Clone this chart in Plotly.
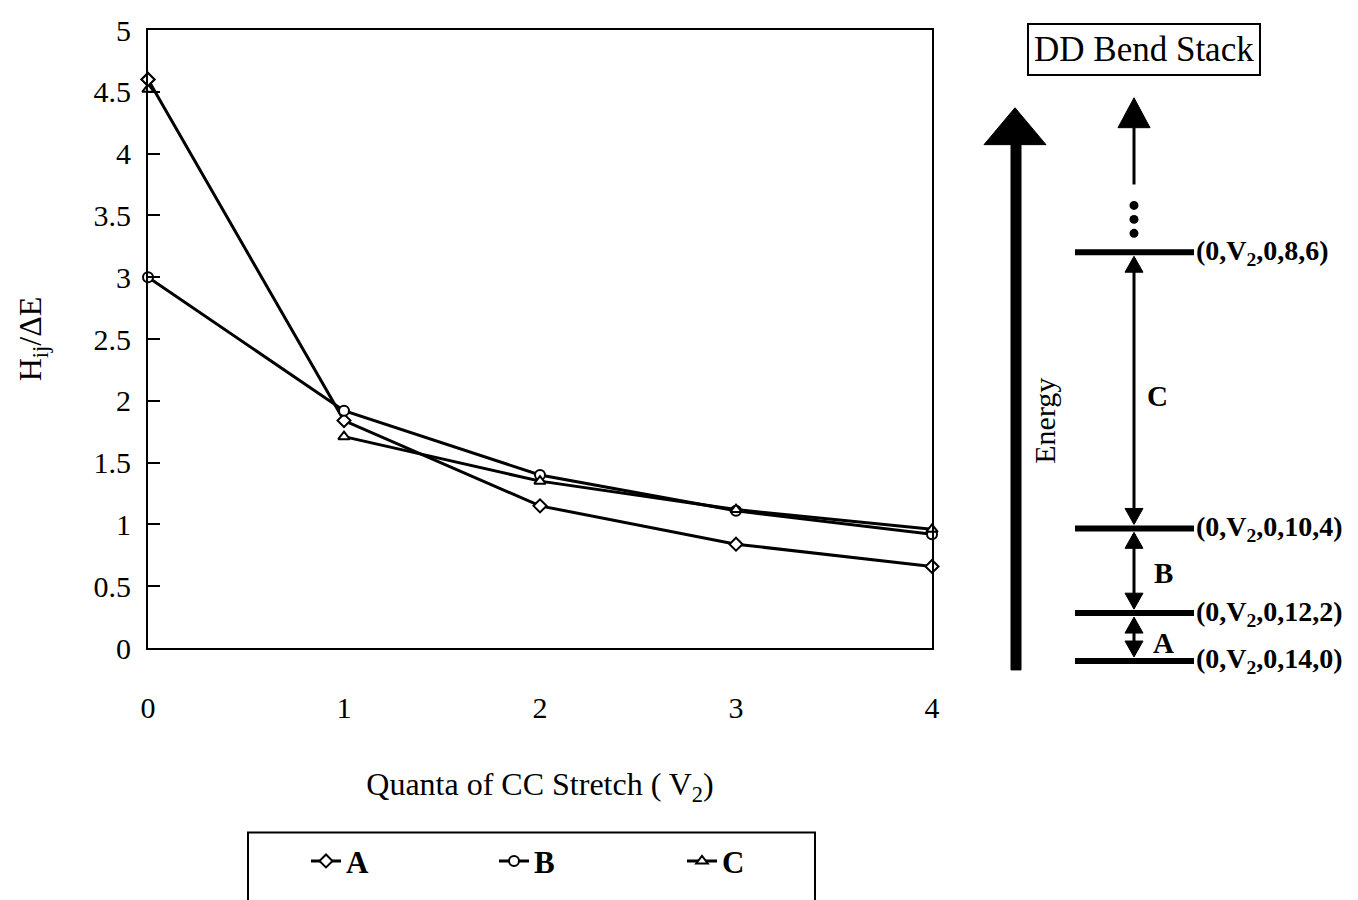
import plotly.graph_objects as go

# Quanta of CC stretch and coupling ratios for each bend-stack pair
quanta = [0, 1, 2, 3, 4]
series_a = [4.60, 1.84, 1.15, 0.84, 0.66]
series_b = [3.00, 1.92, 1.40, 1.11, 0.92]
series_c = [4.52, 1.71, 1.35, 1.12, 0.96]
y_ticks = [0, 0.5, 1, 1.5, 2, 2.5, 3, 3.5, 4, 4.5, 5]
y_tick_text = ["0", "0.5", "1", "1.5", "2", "2.5", "3", "3.5", "4", "4.5", "5"]

# Energy levels of the DD bend stack (label, vertical pixel position)
levels = [("(0,V<sub>2</sub>,0,8,6)", 253),
          ("(0,V<sub>2</sub>,0,10,4)", 530),
          ("(0,V<sub>2</sub>,0,12,2)", 615),
          ("(0,V<sub>2</sub>,0,14,0)", 663)]

SERIF = "Liberation Serif"
W, H = 1358, 900
L, R, T, B = 148, 932, 30, 650


def px(x):
    return (x - L) / (R - L)


def py(y):
    return (B - y) / (B - T)


fig = go.Figure()

marker_line = dict(color="black", width=2)
fig.add_trace(go.Scatter(x=quanta, y=series_a, name="A", mode="lines+markers",
                         line=dict(color="black", width=3),
                         marker=dict(symbol="diamond", size=10, color="white", line=marker_line),
                         cliponaxis=False))
fig.add_trace(go.Scatter(x=quanta, y=series_b, name="B", mode="lines+markers",
                         line=dict(color="black", width=3),
                         marker=dict(symbol="circle", size=10, color="white", line=marker_line),
                         cliponaxis=False))
# C is joined from v2 = 1 onward; the v2 = 0 point is shown as a marker only
fig.add_trace(go.Scatter(x=quanta[1:], y=series_c[1:], name="C", mode="lines+markers",
                         line=dict(color="black", width=3),
                         marker=dict(symbol="triangle-up", size=10, color="white", line=marker_line),
                         cliponaxis=False))
fig.add_trace(go.Scatter(x=quanta[:1], y=series_c[:1], mode="markers", showlegend=False,
                         marker=dict(symbol="triangle-up", size=10, color="white", line=marker_line),
                         cliponaxis=False))
# redraw A on top so its start marker sits above C's
fig.add_trace(go.Scatter(x=quanta[:1], y=series_a[:1], mode="markers", showlegend=False,
                         marker=dict(symbol="diamond", size=10, color="white", line=marker_line),
                         cliponaxis=False))

shapes = []
annotations = []


def label(x, y, text, size, bold=False, angle=0, xanchor="center", **kw):
    font = dict(family=SERIF, size=size, color="black")
    if bold:
        font["weight"] = "bold"
    annotations.append(dict(x=px(x), y=py(y), xref="paper", yref="paper", text=text,
                            textangle=angle, showarrow=False, xanchor=xanchor,
                            yanchor="middle", font=font, **kw))


# Legend frame
shapes.append(dict(type="rect", xref="paper", yref="paper",
                   x0=px(248), x1=px(815), y0=py(835), y1=py(915),
                   line=dict(color="black", width=2), fillcolor="rgba(0,0,0,0)"))

# Big energy arrow
sl, sr, bot, hb, tip_y = 1011, 1021, 672, 145, 108
hl, hr, tx = 984, 1046, 1015
path = (f"M {px(sl)},{py(bot)} L {px(sl)},{py(hb)} L {px(hl)},{py(hb)} "
        f"L {px(tx)},{py(tip_y)} L {px(hr)},{py(hb)} L {px(sr)},{py(hb)} "
        f"L {px(sr)},{py(bot)} Z")
shapes.append(dict(type="path", xref="paper", yref="paper", path=path,
                   fillcolor="black", line=dict(color="black", width=1)))
label(1045, 422, "Energy", 30, angle=-90)

# Stack of levels
cx = 1134


def tri(x, y_tip, y_base, half):
    return dict(type="path", xref="paper", yref="paper",
                path=f"M {px(x - half)},{py(y_base)} L {px(x)},{py(y_tip)} L {px(x + half)},{py(y_base)} Z",
                fillcolor="black", line=dict(color="black", width=1))


def vline(y0, y1, w=3):
    return dict(type="line", xref="paper", yref="paper", x0=px(cx), x1=px(cx),
                y0=py(y0), y1=py(y1), line=dict(color="black", width=w))


# open-ended top arrow
shapes.append(vline(128, 185))
shapes.append(tri(cx, 98, 128, 16))
for yd in (206, 220, 234):
    shapes.append(dict(type="circle", xref="paper", yref="paper",
                       x0=px(cx - 4.5), x1=px(cx + 4.5), y0=py(yd - 4.5), y1=py(yd + 4.5),
                       fillcolor="black", line=dict(color="black", width=0)))

for text, y in levels:
    shapes.append(dict(type="line", xref="paper", yref="paper", x0=px(1075), x1=px(1194),
                       y0=py(y), y1=py(y), line=dict(color="black", width=6)))
    label(1194, y, text, 28, bold=True, xanchor="left")

# double-headed arrows between neighbouring levels
gaps = [(253, 530, "C", 1157, 397), (530, 615, "B", 1163, 575), (615, 663, "A", 1163, 645)]
for y_top, y_bot, lab, lx, ly in gaps:
    shapes.append(vline(y_top + 6, y_bot - 6))
    shapes.append(tri(cx, y_top + 4, y_top + 20, 9))
    shapes.append(tri(cx, y_bot - 4, y_bot - 20, 9))
    label(lx, ly, lab, 29, bold=True)

# Title box
label(1144, 50, "DD Bend Stack", 35, bordercolor="black", borderwidth=2, borderpad=5,
      bgcolor="white")

fig.update_layout(
    width=W, height=H,
    margin=dict(l=L, r=W - R, t=T, b=H - B),
    paper_bgcolor="white", plot_bgcolor="white",
    font=dict(family=SERIF, color="black"),
    shapes=shapes, annotations=annotations,
    legend=dict(orientation="h", x=px(306), y=py(864), xanchor="left", yanchor="middle",
                entrywidth=143, entrywidthmode="pixels", itemwidth=30,
                font=dict(family=SERIF, size=31, color="black", weight="bold"),
                bgcolor="rgba(0,0,0,0)"),
    xaxis=dict(range=[0, 4], tickvals=quanta, ticks="", showgrid=False, zeroline=False,
               showline=True, linecolor="black", linewidth=2, mirror=True,
               ticklabelstandoff=32,
               tickfont=dict(family=SERIF, size=30, color="black"),
               title=dict(text="Quanta of CC Stretch ( V<sub>2</sub>)", standoff=50,
                          font=dict(family=SERIF, size=32, color="black"))),
    yaxis=dict(range=[0, 5], tickvals=y_ticks, ticktext=y_tick_text, ticks="inside",
               ticklen=12, tickwidth=2, tickcolor="black", showgrid=False, zeroline=False,
               showline=True, linecolor="black", linewidth=2, mirror=True,
               ticklabelstandoff=9,
               tickfont=dict(family=SERIF, size=30, color="black"),
               title=dict(text="H<sub>ij</sub>/ΔE", standoff=42,
                          font=dict(family=SERIF, size=32, color="black"))),
)

fig.write_html("out.html")
